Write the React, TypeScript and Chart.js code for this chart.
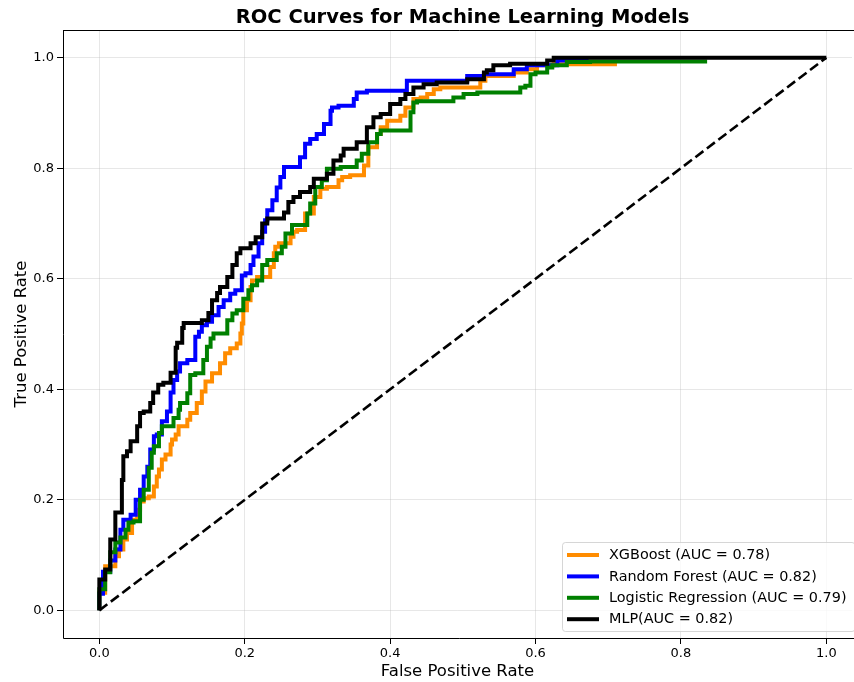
import React, { useEffect, useRef } from "react";
import { Chart, registerables } from "chart.js";

Chart.register(...registerables);

const TITLE = "ROC Curves for Machine Learning Models";
const X_LABEL = "False Positive Rate";
const Y_LABEL = "True Positive Rate";

const xTicks = [0.0, 0.2, 0.4, 0.6, 0.8, 1.0];
const yTicks = [0.0, 0.2, 0.4, 0.6, 0.8, 1.0];

const modelLabels = [
  "XGBoost (AUC = 0.78)",
  "Random Forest (AUC = 0.82)",
  "Logistic Regression (AUC = 0.79)",
  "MLP(AUC = 0.82)",
];
const modelColors = ["#ff8c00", "#0000ff", "#008000", "#000000"];

const xgbFpr = [
  0, 0.008, 0.022, 0.027, 0.033, 0.038, 0.045, 0.052, 0.056, 0.061, 0.068, 0.075, 0.079, 0.082, 0.086,
  0.091, 0.098, 0.1, 0.105, 0.109, 0.121, 0.125, 0.134, 0.141, 0.146, 0.155, 0.166, 0.173, 0.18, 0.189,
  0.194, 0.196, 0.198, 0.203, 0.208, 0.21, 0.217, 0.235, 0.24, 0.242, 0.247, 0.263, 0.267, 0.272, 0.283,
  0.295, 0.304, 0.313, 0.329, 0.334, 0.345, 0.364, 0.37, 0.382, 0.387, 0.396, 0.414, 0.421, 0.432, 0.442,
  0.451, 0.46, 0.469, 0.524, 0.531, 0.533, 0.57, 0.588, 0.602, 0.625, 0.712,
];
const xgbTpr = [
  0, 0.032, 0.08, 0.098, 0.11, 0.128, 0.14, 0.164, 0.182, 0.197, 0.203, 0.206, 0.224, 0.242, 0.255,
  0.273, 0.282, 0.3, 0.309, 0.318, 0.333, 0.345, 0.357, 0.375, 0.396, 0.414, 0.429, 0.447, 0.465, 0.474,
  0.483, 0.501, 0.519, 0.543, 0.561, 0.585, 0.597, 0.603, 0.621, 0.646, 0.658, 0.664, 0.676, 0.685, 0.688,
  0.718, 0.748, 0.763, 0.766, 0.778, 0.784, 0.787, 0.805, 0.838, 0.862, 0.874, 0.886, 0.895, 0.91, 0.925,
  0.928, 0.934, 0.943, 0.946, 0.958, 0.967, 0.967, 0.973, 0.979, 0.986, 0.988,
];

const rfFpr = [
  0, 0.005, 0.015, 0.022, 0.029, 0.033, 0.043, 0.05, 0.056, 0.061, 0.066, 0.07, 0.075, 0.079, 0.086,
  0.093, 0.098, 0.102, 0.107, 0.111, 0.121, 0.132, 0.137, 0.141, 0.148, 0.155, 0.164, 0.171, 0.18, 0.187,
  0.196, 0.201, 0.208, 0.212, 0.219, 0.224, 0.228, 0.231, 0.238, 0.244, 0.249, 0.254, 0.263, 0.276, 0.283,
  0.29, 0.299, 0.309, 0.318, 0.32, 0.329, 0.35, 0.354, 0.368, 0.423, 0.446, 0.506, 0.529, 0.57, 0.588,
  0.63, 0.636, 0.673,
];
const rfTpr = [
  0, 0.03, 0.07, 0.09, 0.11, 0.146, 0.164, 0.173, 0.2, 0.218, 0.242, 0.26, 0.291, 0.315, 0.318,
  0.342, 0.36, 0.394, 0.417, 0.432, 0.447, 0.453, 0.495, 0.504, 0.516, 0.522, 0.534, 0.549, 0.561, 0.573,
  0.579, 0.606, 0.61, 0.625, 0.64, 0.664, 0.685, 0.706, 0.724, 0.742, 0.765, 0.784, 0.802, 0.802, 0.82,
  0.844, 0.853, 0.862, 0.88, 0.904, 0.91, 0.913, 0.925, 0.937, 0.94, 0.958, 0.958, 0.967, 0.97, 0.979,
  0.986, 0.995, 0.995,
];

const lrFpr = [
  0, 0.008, 0.015, 0.022, 0.029, 0.036, 0.04, 0.047, 0.056, 0.061, 0.068, 0.072, 0.075, 0.082, 0.086,
  0.088, 0.102, 0.109, 0.111, 0.121, 0.125, 0.132, 0.143, 0.148, 0.153, 0.157, 0.176, 0.183, 0.189, 0.198,
  0.205, 0.21, 0.217, 0.224, 0.231, 0.233, 0.244, 0.251, 0.256, 0.265, 0.286, 0.29, 0.297, 0.306, 0.313,
  0.332, 0.354, 0.361, 0.37, 0.382, 0.387, 0.4, 0.428, 0.432, 0.437, 0.455, 0.487, 0.501, 0.52, 0.579,
  0.586, 0.593, 0.6, 0.616, 0.623, 0.643, 0.675, 0.836,
];
const lrTpr = [
  0, 0.038, 0.069, 0.105, 0.123, 0.132, 0.146, 0.159, 0.161, 0.2, 0.218, 0.258, 0.285, 0.297, 0.321,
  0.333, 0.333, 0.348, 0.363, 0.375, 0.393, 0.426, 0.429, 0.453, 0.477, 0.492, 0.501, 0.525, 0.537, 0.543,
  0.564, 0.579, 0.588, 0.597, 0.625, 0.634, 0.634, 0.646, 0.658, 0.682, 0.697, 0.718, 0.736, 0.766, 0.778,
  0.799, 0.802, 0.814, 0.826, 0.847, 0.862, 0.868, 0.868, 0.901, 0.919, 0.921, 0.921, 0.928, 0.934, 0.937,
  0.946, 0.949, 0.97, 0.973, 0.982, 0.986, 0.992, 0.993,
];

const mlpFpr = [
  0, 0.008, 0.015, 0.022, 0.031, 0.033, 0.038, 0.043, 0.052, 0.056, 0.061, 0.07, 0.074, 0.081, 0.088,
  0.098, 0.105, 0.107, 0.114, 0.116, 0.141, 0.15, 0.155, 0.162, 0.166, 0.176, 0.183, 0.189, 0.194, 0.208,
  0.215, 0.224, 0.231, 0.254, 0.26, 0.267, 0.276, 0.29, 0.295, 0.313, 0.322, 0.332, 0.336, 0.354, 0.368,
  0.377, 0.387, 0.4, 0.414, 0.421, 0.432, 0.446, 0.464, 0.506, 0.529, 0.533, 0.542, 0.565, 0.616, 0.625,
  0.634, 1.0,
];
const mlpTpr = [
  0, 0.056, 0.074, 0.128, 0.177, 0.236, 0.279, 0.288, 0.306, 0.333, 0.357, 0.36, 0.375, 0.394, 0.408,
  0.412, 0.43, 0.475, 0.484, 0.511, 0.52, 0.525, 0.538, 0.561, 0.574, 0.585, 0.603, 0.625, 0.646, 0.655,
  0.664, 0.675, 0.7, 0.709, 0.72, 0.739, 0.748, 0.757, 0.766, 0.781, 0.79, 0.814, 0.823, 0.835, 0.847,
  0.874, 0.892, 0.898, 0.916, 0.925, 0.934, 0.946, 0.952, 0.955, 0.961, 0.973, 0.977, 0.986, 0.989, 0.995,
  1.0, 1.0,
];

const chanceFpr = [0, 1];
const chanceTpr = [0, 1];

const FONT = '"DejaVu Sans", "Liberation Sans", sans-serif';

function pts(xs: number[], ys: number[]) {
  return xs.map((x, i) => ({ x, y: ys[i] }));
}

export default function App() {
  const ref = useRef<HTMLCanvasElement | null>(null);

  useEffect(() => {
    document.body.style.margin = "0";
    const canvas = ref.current;
    if (!canvas) return;

    const series = [
      { f: xgbFpr, t: xgbTpr },
      { f: rfFpr, t: rfTpr },
      { f: lrFpr, t: lrTpr },
      { f: mlpFpr, t: mlpTpr },
    ];

    const datasets: any[] = series.map((s, i) => ({
      label: modelLabels[i],
      data: pts(s.f, s.t),
      borderColor: modelColors[i],
      backgroundColor: modelColors[i],
      borderWidth: 4,
      pointRadius: 0,
      stepped: "after",
      fill: false,
      order: 5 - i,
      borderJoinStyle: "miter",
    }));
    datasets.push({
      label: "chance",
      data: pts(chanceFpr, chanceTpr),
      borderColor: "#000000",
      borderWidth: 2.6,
      borderDash: [10, 4.4],
      pointRadius: 0,
      fill: false,
      order: 1,
    });

    const framePlugin = {
      id: "frameAndLegend",
      afterDatasetsDraw(chart: any) {
        const { ctx, chartArea } = chart;
        const { left, top, right, bottom } = chartArea;
        ctx.save();
        // spines
        ctx.strokeStyle = "#000";
        ctx.lineWidth = 1;
        ctx.beginPath();
        ctx.moveTo(left + 0.5, top + 0.5);
        ctx.lineTo(right + 20, top + 0.5);
        ctx.moveTo(left + 0.5, top);
        ctx.lineTo(left + 0.5, bottom + 0.5);
        ctx.lineTo(right + 20, bottom + 0.5);
        ctx.stroke();

        // legend
        const fs = 14.4;
        const boxRight = right + 3;
        const boxBottom = bottom - 6.5;
        const boxLeft = right - 289.5;
        const boxTop = bottom - 95.5;
        ctx.beginPath();
        const r = 3;
        ctx.moveTo(boxLeft + r, boxTop);
        ctx.lineTo(boxRight - r, boxTop);
        ctx.arcTo(boxRight, boxTop, boxRight, boxTop + r, r);
        ctx.lineTo(boxRight, boxBottom - r);
        ctx.arcTo(boxRight, boxBottom, boxRight - r, boxBottom, r);
        ctx.lineTo(boxLeft + r, boxBottom);
        ctx.arcTo(boxLeft, boxBottom, boxLeft, boxBottom - r, r);
        ctx.lineTo(boxLeft, boxTop + r);
        ctx.arcTo(boxLeft, boxTop, boxLeft + r, boxTop, r);
        ctx.closePath();
        ctx.fillStyle = "rgba(255,255,255,0.8)";
        ctx.fill();
        ctx.strokeStyle = "rgba(204,204,204,0.8)";
        ctx.lineWidth = 1;
        ctx.stroke();

        ctx.font = `${fs}px ${FONT}`;
        ctx.textBaseline = "middle";
        ctx.textAlign = "left";
        modelLabels.forEach((lab, i) => {
          const y = boxTop + 12.5 + i * 21.4;
          ctx.strokeStyle = modelColors[i];
          ctx.lineWidth = 4;
          ctx.beginPath();
          ctx.moveTo(boxLeft + 4.5, y);
          ctx.lineTo(boxLeft + 36.5, y);
          ctx.stroke();
          ctx.fillStyle = "#000";
          ctx.fillText(lab, boxLeft + 46.5, y + 0.5);
        });

        // title, centred over the full axes
        ctx.font = `bold 19.5px ${FONT}`;
        ctx.textAlign = "center";
        ctx.textBaseline = "alphabetic";
        ctx.fillStyle = "#000";
        ctx.fillText(TITLE, (left + right + 10) / 2, 23);
        ctx.restore();
      },
    };

    const tickFont = { family: FONT, size: 13 };
    const labelFont = { family: FONT, size: 16.5 };

    const chart = new Chart(canvas, {
      type: "line",
      data: { datasets },
      options: {
        animation: false,
        responsive: false,
        maintainAspectRatio: false,
        events: [],
        layout: { padding: { top: 30, left: 0, right: 2, bottom: 0 } },
        plugins: {
          legend: { display: false },
          tooltip: { enabled: false },
          title: { display: false },
        },
        scales: {
          x: {
            type: "linear",
            min: -0.05,
            max: 1.0353,
            afterBuildTicks: (s: any) => {
              s.ticks = xTicks.map((v) => ({ value: v }));
            },
            afterFit: (s: any) => {
              s.height = 44;
            },
            ticks: {
              callback: (v: any) => Number(v).toFixed(1),
              font: tickFont,
              color: "#000",
              padding: 2,
              maxRotation: 0,
              autoSkip: false,
            },
            grid: {
              color: "rgba(176,176,176,0.3)",
              lineWidth: 1,
              tickColor: "#000",
              tickLength: 6,
            },
            border: { display: false },
            title: {
              display: true,
              text: X_LABEL,
              font: labelFont,
              color: "#000",
              padding: { top: 0, bottom: 0 },
            },
          },
          y: {
            type: "linear",
            min: -0.05,
            max: 1.05,
            afterBuildTicks: (s: any) => {
              s.ticks = yTicks.map((v) => ({ value: v }));
            },
            afterFit: (s: any) => {
              s.width = 63;
            },
            ticks: {
              callback: (v: any) => Number(v).toFixed(1),
              font: tickFont,
              color: "#000",
              padding: 3,
              autoSkip: false,
            },
            grid: {
              color: "rgba(176,176,176,0.3)",
              lineWidth: 1,
              tickColor: "#000",
              tickLength: 6,
            },
            border: { display: false },
            title: {
              display: true,
              text: Y_LABEL,
              font: labelFont,
              color: "#000",
              padding: { top: 12, bottom: 0 },
            },
          },
        },
      } as any,
      plugins: [framePlugin],
    });

    return () => {
      chart.destroy();
    };
  }, []);

  return (
    <div style={{ width: 854, height: 682, background: "#fff" }}>
      <canvas ref={ref} width={854} height={682} style={{ display: "block" }} />
    </div>
  );
}
